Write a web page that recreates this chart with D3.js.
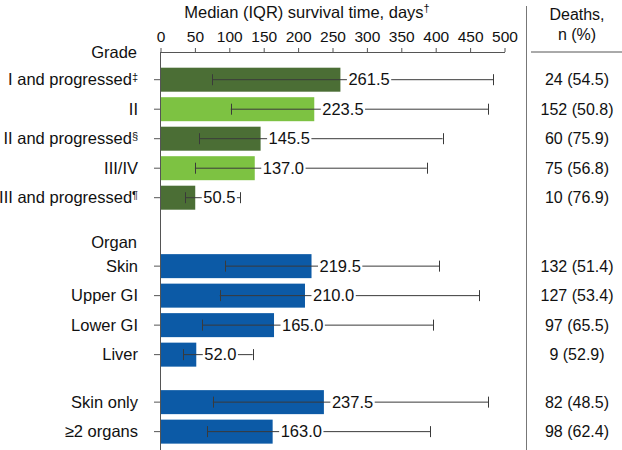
<!DOCTYPE html>
<html>
<head>
<meta charset="utf-8">
<script src="https://cdn.jsdelivr.net/npm/d3@7"></script>
<style>
  html, body { margin: 0; padding: 0; background: #fff; }
  svg { display: block; }
  text { font-family: "Liberation Sans", Arial, Helvetica, sans-serif; fill: #111; }
</style>
</head>
<body>
<svg id="chart" width="622" height="450"></svg>
<script>
// ---- Data ----
const gradeLabels  = ["I and progressed", "II", "II and progressed", "III/IV", "III and progressed"];
const gradeSup     = ["‡", "", "§", "", "¶"];
const gradeMedian  = [261.5, 223.5, 145.5, 137.0, 50.5];
const gradeQ1      = [75, 102, 56, 50, 36];
const gradeQ3      = [484, 476, 410, 387, 116];
const gradeDeaths  = ["24 (54.5)", "152 (50.8)", "60 (75.9)", "75 (56.8)", "10 (76.9)"];
const gradeShade   = ["dark", "light", "dark", "light", "dark"];

const organLabels  = ["Skin", "Upper GI", "Lower GI", "Liver"];
const organMedian  = [219.5, 210.0, 165.0, 52.0];
const organQ1      = [94, 86, 61, 33];
const organQ3      = [405, 463, 396, 134];
const organDeaths  = ["132 (51.4)", "127 (53.4)", "97 (65.5)", "9 (52.9)"];

const involvLabels = ["Skin only", "≥2 organs"];
const involvMedian = [237.5, 163.0];
const involvQ1     = [76, 68];
const involvQ3     = [476, 392];
const involvDeaths = ["82 (48.5)", "98 (62.4)"];

const xTicks = [0, 50, 100, 150, 200, 250, 300, 350, 400, 450, 500];
const groupHeaders = ["Grade", "Organ", ""];
const axisTitle = "Median (IQR) survival time, days";
const axisTitleSup = "†";
const deathsHeader = ["Deaths,", "n (%)"];

// ---- Layout ----
const colors = { dark: "#4b6e35", light: "#7dc242", blue: "#0c5aa6" };
const svg = d3.select("#chart");
const x = d3.scaleLinear().domain([0, 500]).range([160.5, 504.5]);
const slot = d3.scaleLinear().domain([0, 1]).range([79.7, 109.2]);
const barH = 24;

// group starting slots and header offsets (layout only)
const groupStart = [0, 6.32, 10.93];
const headerOffset = [-0.94, -0.81, null];

const rows = [];
function addGroup(gi, labels, sups, med, q1, q3, deaths, shades) {
  labels.forEach((l, i) => rows.push({
    label: l, sup: sups ? sups[i] : "", median: med[i], q1: q1[i], q3: q3[i],
    deaths: deaths[i], color: colors[shades ? shades[i] : "blue"],
    slot: groupStart[gi] + i
  }));
}
addGroup(0, gradeLabels, gradeSup, gradeMedian, gradeQ1, gradeQ3, gradeDeaths, gradeShade);
addGroup(1, organLabels, null, organMedian, organQ1, organQ3, organDeaths, null);
addGroup(2, involvLabels, null, involvMedian, involvQ1, involvQ3, involvDeaths, null);

const axisColor = "#555";
const labelRight = 138;
const fs = "16.5px";

// title
const title = svg.append("text").attr("x", 307).attr("y", 17.5)
  .attr("text-anchor", "middle").style("font-size", fs).text(axisTitle);
title.append("tspan").attr("dy", "-6").style("font-size", "11px").text(axisTitleSup);

// x axis (top)
const xAxis = svg.append("g").attr("transform", "translate(0,52)")
  .call(d3.axisTop(x).tickValues(xTicks).tickSize(4).tickPadding(6).tickSizeOuter(0));
xAxis.select(".domain").attr("stroke", axisColor);
xAxis.selectAll(".tick line").attr("stroke", axisColor);
xAxis.selectAll(".tick text").style("font-size", "15.5px").attr("fill", "#111")
  .style("font-family", "'Liberation Sans', Arial, sans-serif");

// y axis line
svg.append("line").attr("x1", 160.5).attr("x2", 160.5).attr("y1", 52).attr("y2", 450)
  .attr("stroke", axisColor).attr("stroke-width", 1);

// y ticks
svg.selectAll(".ytick").data(rows).enter().append("line")
  .attr("x1", 154).attr("x2", 160.5)
  .attr("y1", d => slot(d.slot)).attr("y2", d => slot(d.slot))
  .attr("stroke", axisColor);

// group headers
groupHeaders.forEach((h, gi) => {
  if (!h) return;
  svg.append("text").attr("x", labelRight - 1).attr("y", slot(groupStart[gi] + headerOffset[gi]))
    .attr("dy", "0.35em").attr("text-anchor", "end").style("font-size", fs).text(h);
});

// category labels
const cl = svg.selectAll(".cat").data(rows).enter().append("text")
  .attr("x", labelRight).attr("y", d => slot(d.slot)).attr("dy", "0.35em")
  .attr("text-anchor", "end").style("font-size", fs);
cl.append("tspan").text(d => d.label);
cl.filter(d => d.sup).append("tspan").attr("dy", "-0.45em").style("font-size", "11px").text(d => d.sup);

// bars
svg.selectAll(".bar").data(rows).enter().append("rect")
  .attr("x", x(0) + 0.5).attr("y", d => slot(d.slot) - barH / 2)
  .attr("width", d => x(d.median) - x(0) - 0.5).attr("height", barH)
  .attr("fill", d => d.color);

// whiskers
const wColor = "#3a3a3a";
svg.selectAll(".whisk").data(rows).enter().append("line")
  .attr("x1", d => x(d.q1)).attr("x2", d => x(d.q3))
  .attr("y1", d => slot(d.slot)).attr("y2", d => slot(d.slot))
  .attr("stroke", wColor).attr("stroke-width", 1);
["q1", "q3"].forEach(k => {
  svg.selectAll(".cap" + k).data(rows).enter().append("line")
    .attr("x1", d => Math.round(x(d[k])) + 0.5).attr("x2", d => Math.round(x(d[k])) + 0.5)
    .attr("y1", d => slot(d.slot) - 5.5).attr("y2", d => slot(d.slot) + 5.5)
    .attr("stroke", wColor).attr("stroke-width", 1);
});

// median labels with white backing
const ml = svg.selectAll(".med").data(rows).enter().append("g");
const mt = ml.append("text")
  .attr("x", d => x(d.median) + 8).attr("y", d => slot(d.slot)).attr("dy", "0.35em")
  .style("font-size", fs).text(d => d.median.toFixed(1));
mt.each(function() {
  const b = this.getBBox();
  d3.select(this.parentNode).insert("rect", "text")
    .attr("x", b.x - 1.5).attr("y", b.y + 3).attr("width", b.width + 3).attr("height", b.height - 6)
    .attr("fill", "#fff");
});

// right panel
svg.append("line").attr("x1", 526.5).attr("x2", 526.5).attr("y1", 6).attr("y2", 450)
  .attr("stroke", "#777").attr("stroke-width", 1);
svg.append("line").attr("x1", 531).attr("x2", 622).attr("y1", 52).attr("y2", 52)
  .attr("stroke", "#555").attr("stroke-width", 1);
deathsHeader.forEach((t, i) => {
  svg.append("text").attr("x", 577).attr("y", i === 0 ? 19.5 : 40)
    .attr("text-anchor", "middle").style("font-size", "16px").text(t);
});
svg.selectAll(".deaths").data(rows).enter().append("text")
  .attr("x", 577).attr("y", d => slot(d.slot)).attr("dy", "0.35em")
  .attr("text-anchor", "middle").style("font-size", "16px").text(d => d.deaths);
</script>
</body>
</html>
